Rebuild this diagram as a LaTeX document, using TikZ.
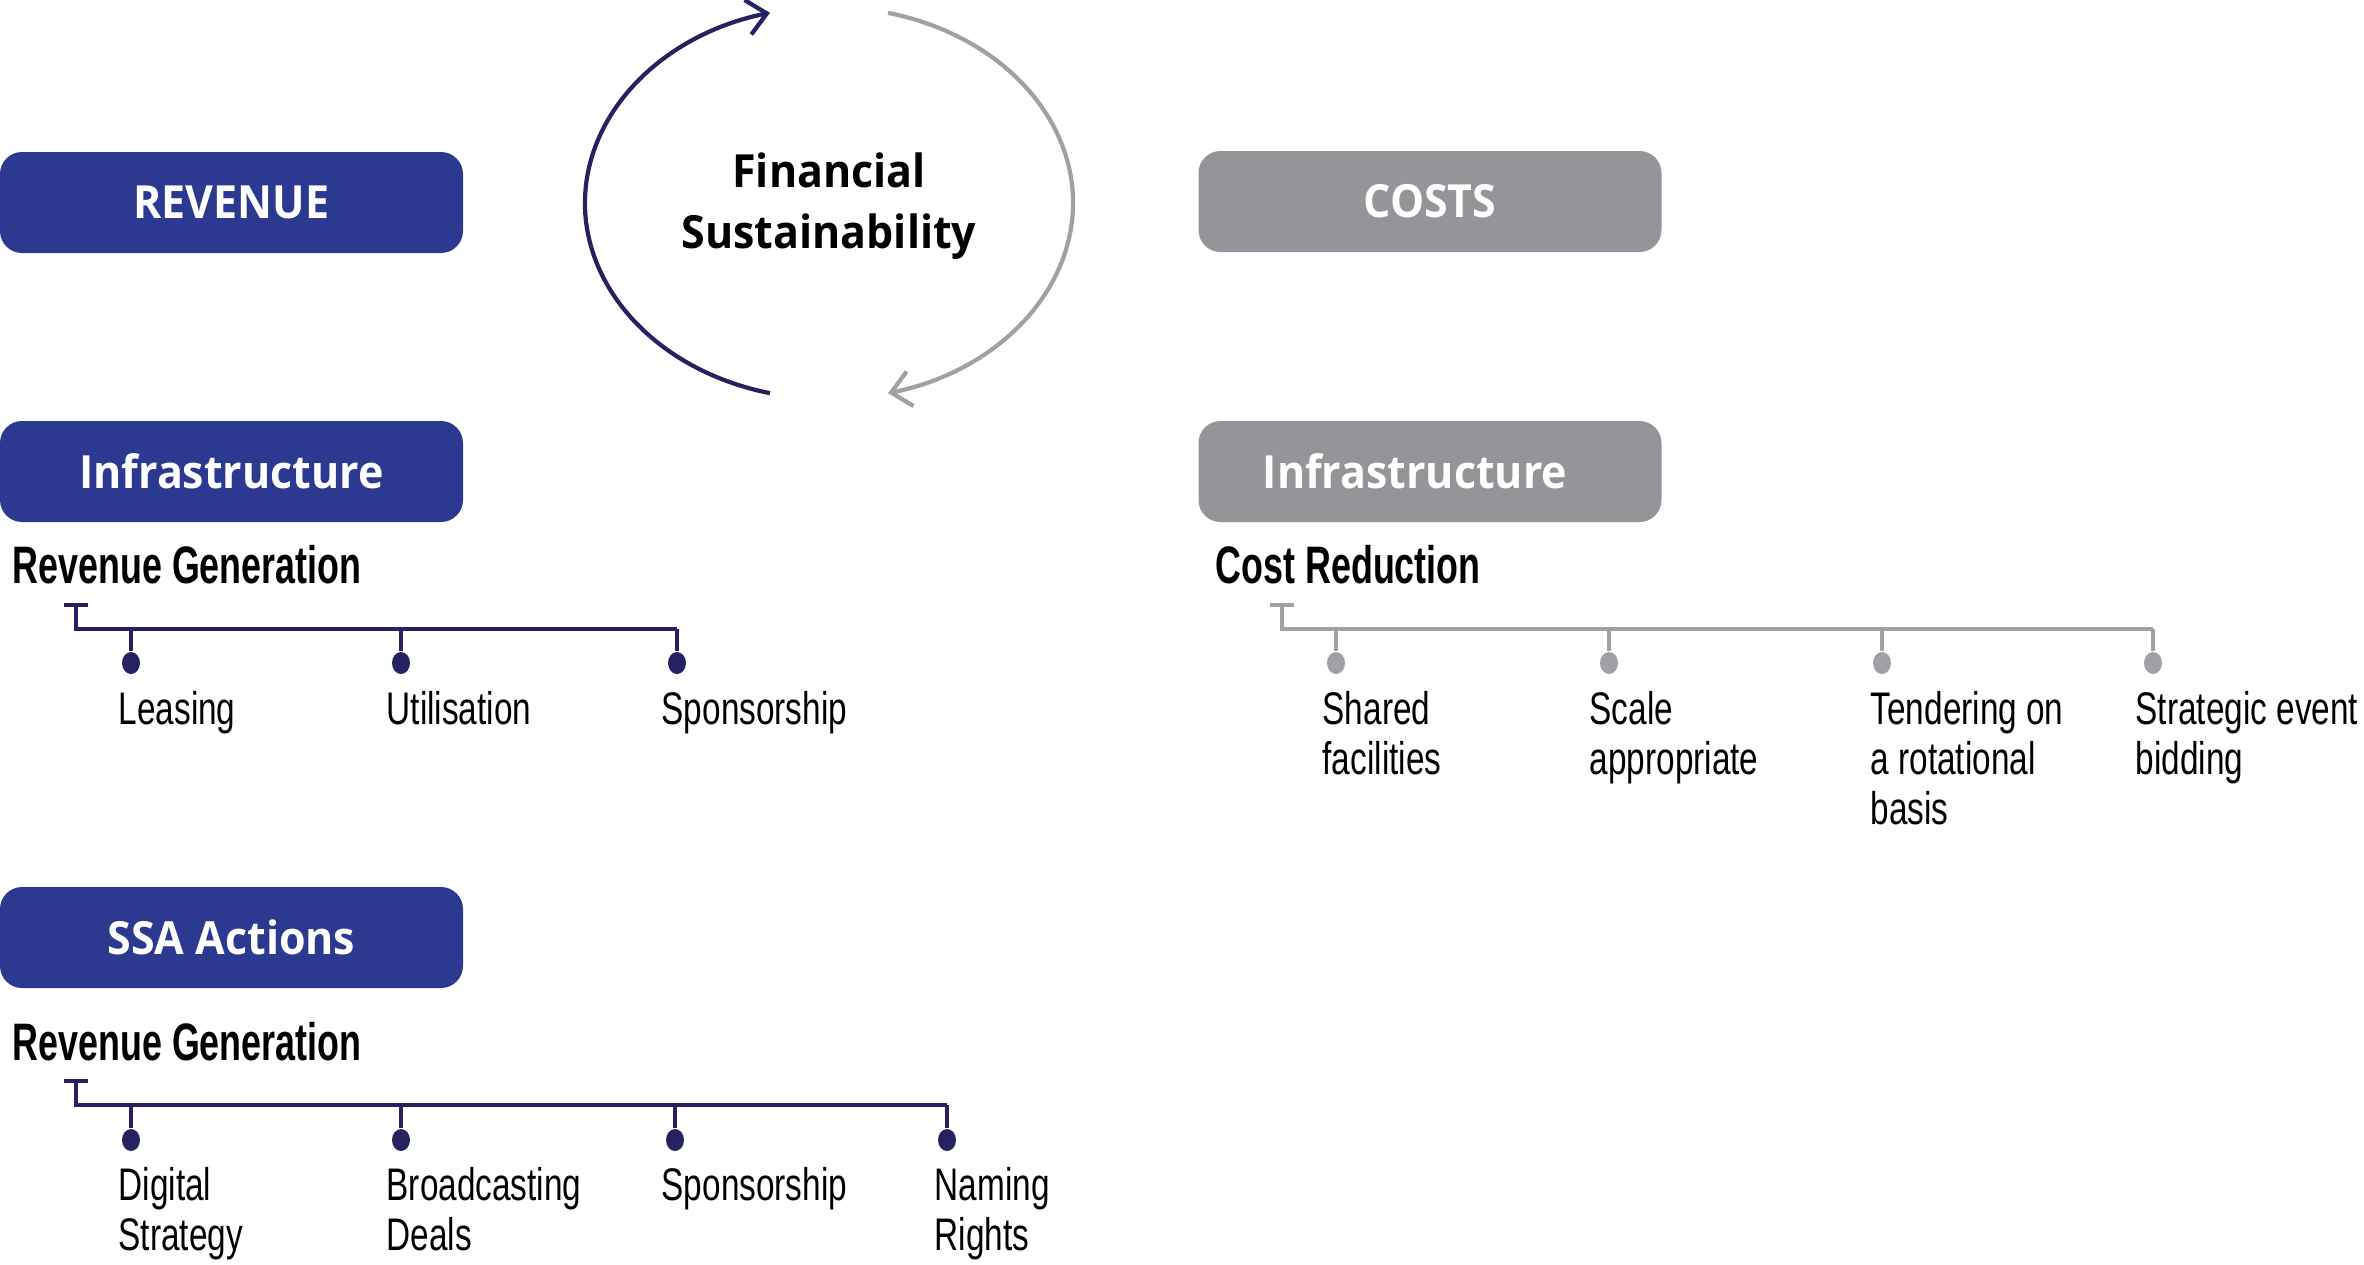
\documentclass[tikz,border=0pt]{standalone}
\usepackage{fontspec}
\usepackage{xcolor}
\usepackage{tikz}
\usetikzlibrary{arrows.meta,shapes.geometric,calc,positioning}
\newfontfamily\boxfont[FakeStretch=0.94]{Open Sans}
\newfontfamily\condfont[FakeStretch=0.73]{Liberation Sans}
\newfontfamily\condhead[FakeStretch=0.68]{Liberation Sans}
\definecolor{revblue}{HTML}{2B3990}
\definecolor{navy}{HTML}{262262}
\definecolor{costgray}{HTML}{939598}
\definecolor{linegray}{HTML}{A0A1A4}
\tikzset{
  box/.style={rounded corners=0.22cm, minimum width=4.63cm, minimum height=1.01cm,
    inner sep=0pt, text=white, font=\boxfont\bfseries\fontsize{13}{16}\selectfont},
  revbox/.style={box, fill=revblue},
  costbox/.style={box, fill=costgray},
  heading/.style={anchor=base west, inner sep=0pt, font=\condhead\bfseries\fontsize{15}{18}\selectfont},
  item/.style={anchor=base west, inner sep=0pt, align=left, font=\condfont\fontsize{13}{14.2}\selectfont},
  stem/.style={line width=1.4pt},
  drop/.style={line width=0.9pt},
  dot/.style={ellipse, minimum width=0.18cm, minimum height=0.22cm, inner sep=0pt},
  cyc/.style={line width=1.2pt, -{Straight Barb[length=5.5pt,width=10pt]}}
}

\begin{document}
\begin{tikzpicture}
  \useasboundingbox (0,0) rectangle (23.64,-12.64);

  % Headline boxes
  \node[revbox] (revenue) at (2.315,-2.025) {REVENUE};
  \node[costbox] (costs) at (14.30,-2.015) {COSTS};
  \node[revbox] (infrarev) at (2.315,-4.715) {Infrastructure};
  \node[costbox] (infracost) at (14.30,-4.715) {\hspace*{-0.3cm}Infrastructure};
  \node[revbox] (ssa) at (2.315,-9.375) {SSA Actions};

  % Cycle
  \coordinate (cyc) at (8.29,-2.03);
  \node[align=center, font=\boxfont\bfseries\fontsize{13}{17.4}\selectfont] (fs) at (8.29,-2.06) {Financial\\Sustainability};
  \draw[cyc, navy] ([shift={(256:2.44 and 1.96)}]cyc) arc[start angle=256, end angle=104, x radius=2.44, y radius=1.96];
  \draw[cyc, linegray] ([shift={(76:2.44 and 1.96)}]cyc) arc[start angle=76, end angle=-76, x radius=2.44, y radius=1.96];

  % Revenue generation (infrastructure)
  \node[heading] (rgone) at (0.12,-5.83) {Revenue Generation};
  \coordinate (rgoneT) at (0.76,-6.05);
  \coordinate (rgoneA) at (0.76,-6.29);
  \coordinate (rgoneB) at (6.77,-6.29);
  \draw[stem, navy] ([xshift=-0.12cm]rgoneT) -- ([xshift=0.12cm]rgoneT);
  \draw[stem, navy] (rgoneT) -- (rgoneA) -- (rgoneB);
  \node[dot, fill=navy] (lease) at (1.31,-6.63) {};
  \node[dot, fill=navy] (util) at (4.01,-6.63) {};
  \node[dot, fill=navy] (sponsone) at (6.77,-6.63) {};
  \draw[drop, navy] (lease) -- (lease |- rgoneA);
  \draw[drop, navy] (util) -- (util |- rgoneA);
  \draw[drop, navy] (sponsone) -- (sponsone |- rgoneA);
  \node[item] (leaselbl) at (1.18,-7.24) {Leasing};
  \node[item] (utillbl) at (3.86,-7.24) {Utilisation};
  \node[item] (sponsonelbl) at (6.61,-7.24) {Sponsorship};

  % Cost reduction (infrastructure)
  \node[heading] (cr) at (12.15,-5.83) {Cost Reduction};
  \coordinate (crT) at (12.82,-6.05);
  \coordinate (crA) at (12.82,-6.29);
  \coordinate (crB) at (21.53,-6.29);
  \draw[stem, linegray] ([xshift=-0.12cm]crT) -- ([xshift=0.12cm]crT);
  \draw[stem, linegray] (crT) -- (crA) -- (crB);
  \node[dot, fill=linegray] (shared) at (13.36,-6.63) {};
  \node[dot, fill=linegray] (scale) at (16.09,-6.63) {};
  \node[dot, fill=linegray] (tender) at (18.82,-6.63) {};
  \node[dot, fill=linegray] (bid) at (21.53,-6.63) {};
  \draw[drop, linegray] (shared) -- (shared |- crA);
  \draw[drop, linegray] (scale) -- (scale |- crA);
  \draw[drop, linegray] (tender) -- (tender |- crA);
  \draw[drop, linegray] (bid) -- (bid |- crA);
  % base anchor sits on the last line
  \node[item] (sharedlbl) at (13.22,-7.74) {Shared\\facilities};
  \node[item] (scalelbl) at (15.89,-7.74) {Scale\\appropriate};
  \node[item] (tenderlbl) at (18.70,-8.24) {Tendering on\\a rotational\\basis};
  \node[item] (bidlbl) at (21.35,-7.74) {Strategic event\\bidding};

  % Revenue generation (SSA actions)
  \node[heading] (rgtwo) at (0.12,-10.60) {Revenue Generation};
  \coordinate (rgtwoT) at (0.76,-10.81);
  \coordinate (rgtwoA) at (0.76,-11.05);
  \coordinate (rgtwoB) at (9.47,-11.05);
  \draw[stem, navy] ([xshift=-0.12cm]rgtwoT) -- ([xshift=0.12cm]rgtwoT);
  \draw[stem, navy] (rgtwoT) -- (rgtwoA) -- (rgtwoB);
  \node[dot, fill=navy] (digital) at (1.31,-11.40) {};
  \node[dot, fill=navy] (broad) at (4.01,-11.40) {};
  \node[dot, fill=navy] (sponstwo) at (6.75,-11.40) {};
  \node[dot, fill=navy] (naming) at (9.47,-11.40) {};
  \draw[drop, navy] (digital) -- (digital |- rgtwoA);
  \draw[drop, navy] (broad) -- (broad |- rgtwoA);
  \draw[drop, navy] (sponstwo) -- (sponstwo |- rgtwoA);
  \draw[drop, navy] (naming) -- (naming |- rgtwoA);
  \node[item] (digitallbl) at (1.18,-12.50) {Digital\\Strategy};
  \node[item] (broadlbl) at (3.86,-12.50) {Broadcasting\\Deals};
  \node[item] (sponstwolbl) at (6.61,-12.00) {Sponsorship};
  \node[item] (naminglbl) at (9.34,-12.50) {Naming\\Rights};
\end{tikzpicture}
\end{document}
